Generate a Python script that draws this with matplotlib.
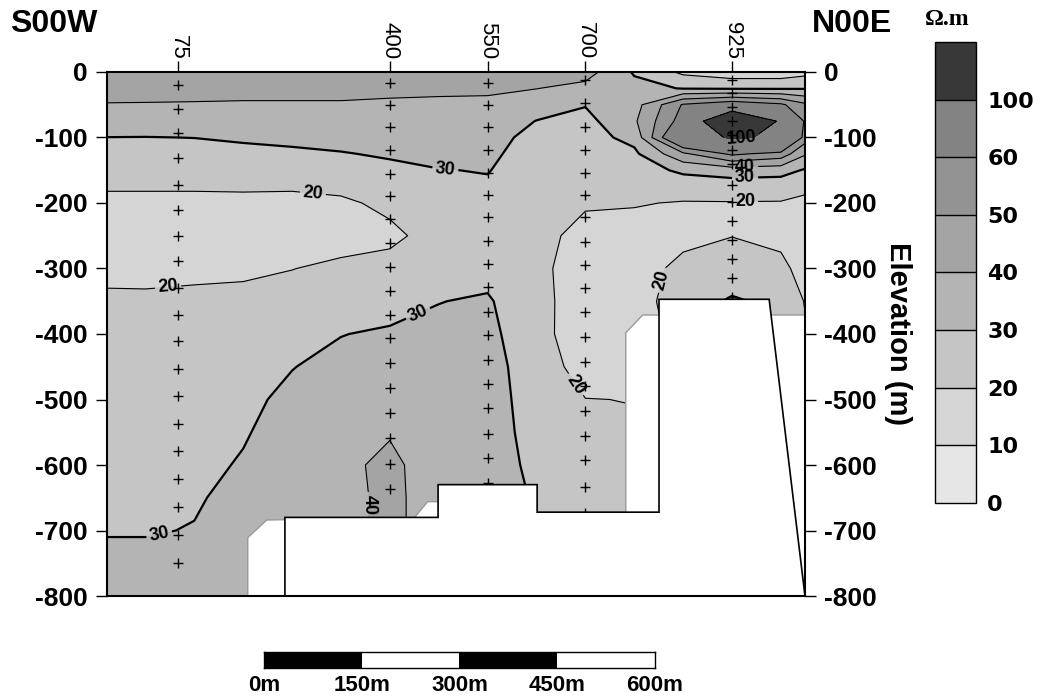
import numpy as np
import matplotlib
matplotlib.use('Agg')
import matplotlib.pyplot as plt
from matplotlib.patches import Polygon

plt.rcParams['font.family'] = ['Liberation Sans', 'DejaVu Sans']

# grid nodes: distance along profile (m), elevation (m)
dist = [-34, 25, 100, 175, 250, 325, 400, 475, 550, 625, 700, 775, 850, 925, 1000, 1037]
elev = [0, -25, -50, -75, -100, -125, -150, -175, -200, -250, -300, -350,
        -400, -450, -500, -550, -600, -650, -700, -750, -800]

rho_m34 = [45, 43, 39.6, 35, 29.9, 27, 24, 20.8, 18, 15, 17, 22, 24, 25, 26, 27, 28, 29, 29.5, 32, 33]
rho_25 = [45, 43, 39.5, 35, 29.8, 27, 24, 20.8, 18, 15, 17, 21.8, 24, 25, 26, 27, 28, 29, 29.5, 32, 33]
rho_100 = [45, 43, 39.3, 35, 30.1, 27, 24, 20.8, 18, 15, 17.5, 22.5, 24.5, 25.5, 26.5, 27.5, 28.5, 29.3, 30.3, 32, 33]
rho_175 = [45, 43, 39, 35, 31, 28, 25, 21, 18, 15, 18, 23, 25, 27, 28.5, 29.5, 30.5, 32, 33, 33, 33]
rho_250 = [45, 43, 39, 35, 32, 28.5, 25, 21, 17.5, 14, 19.8, 24, 27, 29.8, 31.5, 32.5, 33, 34, 34, 34, 34]
rho_325 = [45, 43, 39, 35.5, 33, 29.5, 26.5, 22, 18.5, 16, 22, 27.5, 29.8, 32, 33.5, 34, 37, 36, 36, 36, 36]
rho_400 = [46, 43, 38, 36, 34, 31, 28, 25, 22, 18, 23, 27, 31, 34, 36.5, 39, 43, 43, 43, 43, 43]
rho_475 = [46, 42, 38, 36, 34.5, 32.5, 29.7, 27, 25, 23.5, 25, 29.8, 32, 33, 33.5, 34, 33, 34, 34, 34, 34]
rho_550 = [47, 42, 37.5, 35, 33.5, 32, 30.4, 28.8, 27, 25, 27, 31, 32.5, 32.5, 32, 31.5, 31, 31, 31, 31, 31]
rho_625 = [46, 40.2, 34, 29.8, 27, 25.5, 25, 25, 24.5, 23, 22.5, 23, 23.5, 26.5, 27.9, 28.8, 29.5, 29.8, 30, 30, 30]
rho_700 = [44, 37, 30.5, 27, 26, 25, 24, 22.5, 21, 17, 15, 15, 14, 15, 20.2, 22, 23, 24, 25, 25, 25]
rho_775 = [29, 33, 36, 38.5, 33, 28, 25, 22, 20.5, 17, 15, 15, 17, 18.5, 19.8, 21, 22, 22, 22, 22, 22]
rho_850 = [18, 29.5, 61, 65, 80, 48, 32, 24, 19.5, 17, 23, 26, 22, 22, 22, 22, 22, 22, 22, 22, 22]
rho_925 = [14, 29, 68, 150, 104, 62, 35, 24.5, 19.6, 19.8, 25, 31, 31, 31, 31, 31, 31, 31, 31, 31, 31]
rho_1000 = [14, 29, 62, 95, 95, 56, 34, 24, 19.5, 18, 22, 28, 28, 28, 28, 28, 28, 28, 28, 28, 28]
rho_1037 = [17, 29.3, 52, 58, 55, 41, 29, 22, 18, 15, 17, 19.5, 21, 21, 21, 21, 21, 21, 21, 21, 21]

# sounding stations and their measurement depths (m)
stations = [75, 400, 550, 700, 925]
depth_75 = [20, 57, 93, 132, 172, 211, 250, 288, 330, 371, 411, 453, 495, 537, 578, 621, 664, 707, 750]
depth_400 = [17, 50, 84, 119, 155, 189, 225, 261, 297, 334, 371, 406, 445, 483, 521, 559, 598, 637]
depth_550 = [17, 50, 84, 119, 154, 188, 222, 258, 293, 329, 366, 402, 440, 477, 513, 552, 589, 628]
depth_700 = [12, 48, 84, 119, 154, 188, 222, 259, 295, 330, 367, 404, 442, 479, 517, 555, 592, 633, 673]
depth_925 = [12, 32, 53, 75, 96, 119, 140, 173, 198, 227, 256, 285, 315, 343]

# blanked areas (no data / topography)
topo_x = [239, 239, 474, 474, 626, 626, 813, 813, 982, 1037]
topo_e = [-800, -680, -680, -630, -630, -672, -672, -347, -347, -800]
blankA_x = [182, 182, 211, 438, 458, 485, 485]
blankA_e = [-800, -711, -684, -680, -656, -656, -800]
blankB_x = [762, 762, 788, 1037, 1037]
blankB_e = [-800, -398, -371, -371, -800]

levels = [0, 10, 20, 30, 40, 50, 60, 100, 200]
grays = ['#e6e6e6', '#d5d5d5', '#c5c5c5', '#b4b4b4', '#a4a4a4', '#939393', '#838383', '#383838']
cb_ticks = [0, 10, 20, 30, 40, 50, 60, 100]
bar_marks = [0, 150, 300, 450, 600]

# contour lines: level, width, label positions
line_levels = [20, 30, 40, 50, 60, 100]
line_widths = [0.8, 1.6, 0.8, 0.8, 0.8, 0.8]
label_pos = {
    20: [(282, -185), (60, -330), (684, -478), (818, -318), (945, -197)],
    30: [(485, -150), (443, -368), (47, -710), (945, -162)],
    40: [(357, -661), (945, -146)],
    50: [],
    60: [],
    100: [(940, -100)],
}

cols = [rho_m34, rho_25, rho_100, rho_175, rho_250, rho_325, rho_400, rho_475,
        rho_550, rho_625, rho_700, rho_775, rho_850, rho_925, rho_1000, rho_1037]
Z = np.column_stack(cols)
X, Y = np.meshgrid(dist, elev)

fig = plt.figure(figsize=(10.43, 6.98), dpi=100)
ax = fig.add_axes([0.10259, 0.14613, 0.66922, 0.75072])

cf = ax.contourf(X, Y, Z, levels=levels, colors=grays, zorder=1)
for lev, lw in zip(line_levels, line_widths):
    cs = ax.contour(X, Y, Z, levels=[lev], colors='black', linewidths=lw, zorder=2)
    if label_pos[lev]:
        with plt.rc_context({'font.weight': 'bold'}):
            cs.clabel(manual=label_pos[lev], fmt='%d', fontsize=13, inline_spacing=3)

depths = [depth_75, depth_400, depth_550, depth_700, depth_925]
for st, dd in zip(stations, depths):
    ax.plot([st] * len(dd), [-d for d in dd], '+', color='black', ms=6.5, mew=1, zorder=2.5)

ax.add_patch(Polygon(list(zip(blankA_x, blankA_e)), closed=True, facecolor='white',
                     edgecolor='#999999', lw=1, zorder=3))
ax.add_patch(Polygon(list(zip(blankB_x, blankB_e)), closed=True, facecolor='white',
                     edgecolor='#999999', lw=1, zorder=3))
ax.add_patch(Polygon(list(zip(topo_x, topo_e)), closed=True, facecolor='white',
                     edgecolor='black', lw=1.2, zorder=4))

ax.set_xlim(-34, 1037)
ax.set_ylim(-800, 0)
ax.xaxis.tick_top()
ax.set_xticks(stations)
ax.set_xticklabels([str(s) for s in stations], rotation=270, fontsize=16)
ax.tick_params(axis='x', direction='out', length=8, width=1, pad=1)
ax.set_yticks(range(0, -801, -100))
ax.set_yticklabels([str(v) for v in range(0, -801, -100)], fontsize=19, fontweight='bold')
ax.tick_params(axis='y', which='both', direction='out', length=8, width=1, pad=6,
               left=True, right=True, labelleft=True, labelright=True)
ax.yaxis.set_label_position('right')
ax.set_ylabel('Elevation (m)', fontsize=21, fontweight='bold', rotation=270, labelpad=25)
for sp in ax.spines.values():
    sp.set_linewidth(1.5)
    sp.set_zorder(5)

fig.text(10 / 1043, 1 - 32 / 698, 'S00W', fontsize=23, fontweight='bold', ha='left', va='baseline')
fig.text(812 / 1043, 1 - 32 / 698, 'N00E', fontsize=23, fontweight='bold', ha='left', va='baseline')

# colour scale
cax = fig.add_axes([0.8965, 0.2794, 0.0393, 0.6605])
cb = fig.colorbar(cf, cax=cax, ticks=cb_ticks, drawedges=True)
cb.outline.set_linewidth(1)
cb.dividers.set_linewidth(1)
cax.tick_params(length=0, pad=8)
for t in cax.get_yticklabels():
    t.set_fontfamily('DejaVu Sans')
    t.set_fontweight('bold')
    t.set_fontsize(16)
fig.text(947 / 1043, 1 - 25 / 698, 'Ω.m', fontsize=17, fontweight='bold',
         family='Liberation Serif', ha='center', va='baseline')

# scale bar
sax = fig.add_axes([264 / 1043, 30 / 698, 391 / 1043, 16 / 698])
sax.barh(0.5, [150] * 4, left=bar_marks[:-1], height=1,
         color=['black', 'white', 'black', 'white'], edgecolor='none')
sax.set_xlim(0, 600)
sax.set_ylim(0, 1)
sax.set_yticks([])
sax.set_xticks(bar_marks)
sax.set_xticklabels([f'{m}m' for m in bar_marks], fontsize=16, fontweight='bold')
sax.tick_params(axis='x', length=0, pad=5)
for sp in sax.spines.values():
    sp.set_linewidth(1)

fig.savefig('out.png', dpi=100)
